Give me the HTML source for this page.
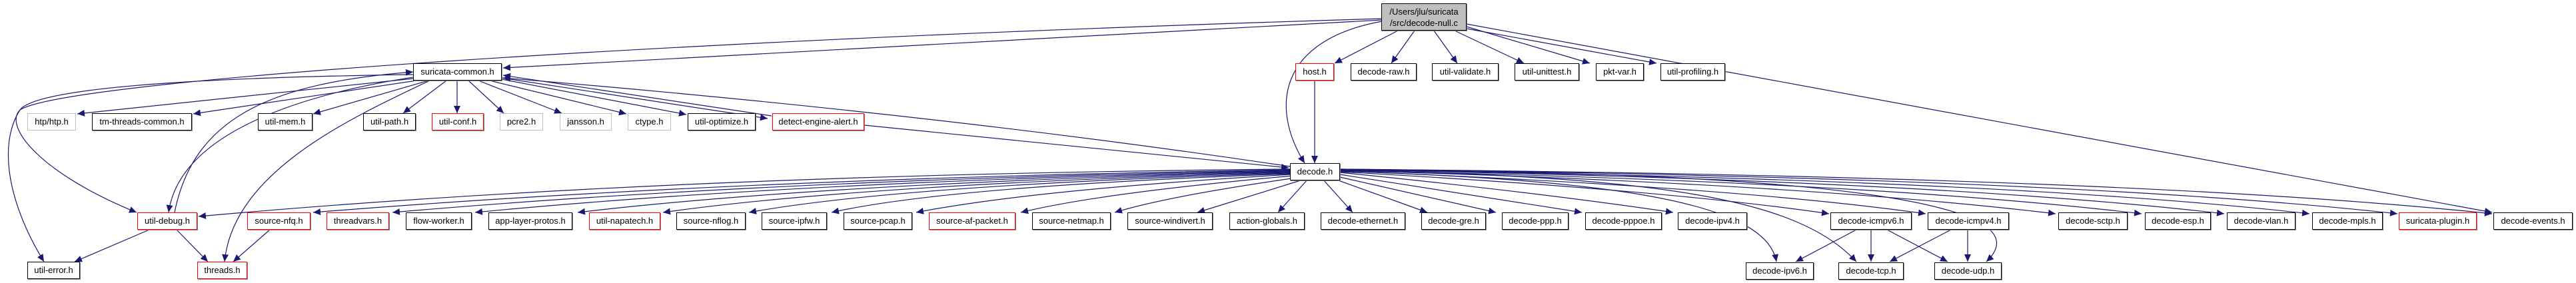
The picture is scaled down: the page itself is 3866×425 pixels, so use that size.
<!DOCTYPE html>
<html><head><meta charset="utf-8"><style>
html,body{margin:0;padding:0;background:#fff;}
body{width:3866px;height:425px;position:relative;overflow:hidden;font-family:"Liberation Sans",Arial,sans-serif;}
.n{position:absolute;box-sizing:border-box;border:1px solid #000;background:#fff;font-size:13px;color:#000;text-align:center;line-height:23px;height:26px;white-space:nowrap;box-shadow:1px 1px 0 #888;}
.r{border-color:#ff0000;}
.g{border-color:#bfbfbf;box-shadow:none;}
svg{position:absolute;left:0;top:0;}
</style></head><body>
<svg width="3866" height="425" viewBox="0 0 3866 425">
<defs><marker id="a" markerUnits="userSpaceOnUse" markerWidth="12" markerHeight="10" refX="11" refY="5" orient="auto"><path d="M0,0 L11,5 L0,10 z" fill="#191970"/></marker></defs>
<g fill="none" stroke="#191970" stroke-width="1.2" marker-end="url(#a)">
<path d="M2098,46 L2003,95"/>
<path d="M2123,46 L2088,95"/>
<path d="M2152,46 L2187,95"/>
<path d="M2183,46 L2287,95"/>
<path d="M2201,40 L2386,95"/>
<path d="M2201,43 L2486,95"/>
<path d="M2201,36 L3740,319"/>
<path d="M2074,32 C1920,60 1905,160 1958,245"/>
<path d="M1973,121 L1973,245"/>
<path d="M2074,30 L755,102"/>
<path d="M2074,28 C1000,60 100,120 30,165 C5,190 60,260 205,319"/>
<path d="M620,112 C400,115 60,125 30,165 C-5,220 15,310 66,393"/>
<path d="M640,113 C450,140 270,200 253,319"/>
<path d="M262,319 C290,180 400,125 620,108"/>
<path d="M645,121 C520,180 350,260 337,393"/>
<path d="M620,118 L116,171"/>
<path d="M625,121 L290,171"/>
<path d="M643,121 L470,171"/>
<path d="M670,121 L605,170"/>
<path d="M686,121 L686,170"/>
<path d="M703,121 L756,170"/>
<path d="M718,121 L843,170"/>
<path d="M735,121 L940,171"/>
<path d="M753,119 L1030,172"/>
<path d="M753,117 L1152,178"/>
<path d="M1158,174 L755,113"/>
<path d="M1936,250 Q1400,170 755,117"/>
<path d="M1297,188 L1934,252"/>
<path d="M1936,254 Q1000,262 298,325"/>
<path d="M1936,255 Q1100,268 470,319"/>
<path d="M1936,256 Q1150,270 589,319"/>
<path d="M1936,257 Q1200,272 713,319"/>
<path d="M1936,258 Q1250,274 867,319"/>
<path d="M1936,259 Q1300,276 995,319"/>
<path d="M1936,260 Q1350,278 1124,319"/>
<path d="M1936,261 Q1420,280 1248,319"/>
<path d="M1937,262 Q1550,285 1375,319"/>
<path d="M1940,264 Q1650,290 1532,319"/>
<path d="M1945,267 Q1750,295 1673,319"/>
<path d="M1955,270 L1797,319"/>
<path d="M1962,270 L1918,319"/>
<path d="M1986,270 L2030,319"/>
<path d="M2006,270 L2142,319"/>
<path d="M2011,266 L2245,319"/>
<path d="M2011,262 L2374,319"/>
<path d="M2011,259 Q2300,288 2511,319"/>
<path d="M2011,257 C2400,270 2650,300 2666,393"/>
<path d="M2011,256 C2500,265 2700,300 2786,393"/>
<path d="M2011,255 C2700,258 3080,300 2981,393"/>
<path d="M2011,258 Q2500,285 2745,321"/>
<path d="M2011,257 Q2600,280 2890,321"/>
<path d="M2011,256 Q2700,275 3085,321"/>
<path d="M2011,256 Q2800,272 3214,321"/>
<path d="M2011,255 Q2900,270 3338,321"/>
<path d="M2011,255 Q3000,268 3466,321"/>
<path d="M2011,254 Q3100,266 3598,321"/>
<path d="M2011,254 Q3200,264 3740,321"/>
<path d="M224,345 L112,393"/>
<path d="M265,345 L312,393"/>
<path d="M405,345 L350,393"/>
<path d="M2786,345 L2695,393"/>
<path d="M2808,345 L2808,393"/>
<path d="M2832,345 L2923,393"/>
<path d="M2928,345 L2836,393"/>
<path d="M2953,345 L2953,393"/>
</g>
</svg>
<div class="n" style="left:2073px;top:5px;width:128px;height:41px;line-height:17px;padding-top:3px;background:#bfbfbf;">/Users/jlu/suricata<br>/src/decode-null.c</div>
<div class="n" style="left:620px;top:95px;width:133px;">suricata-common.h</div>
<div class="n r" style="left:1944px;top:95px;width:58px;">host.h</div>
<div class="n" style="left:2027px;top:95px;width:99px;">decode-raw.h</div>
<div class="n" style="left:2149px;top:95px;width:100px;">util-validate.h</div>
<div class="n" style="left:2273px;top:95px;width:97px;">util-unittest.h</div>
<div class="n" style="left:2395px;top:95px;width:72px;">pkt-var.h</div>
<div class="n" style="left:2492px;top:95px;width:97px;">util-profiling.h</div>

<div class="n g" style="left:41px;top:170px;width:73px;">htp/htp.h</div>
<div class="n" style="left:138px;top:170px;width:150px;">tm-threads-common.h</div>
<div class="n" style="left:387px;top:170px;width:82px;">util-mem.h</div>
<div class="n" style="left:545px;top:170px;width:79px;">util-path.h</div>
<div class="n r" style="left:648px;top:170px;width:78px;">util-conf.h</div>
<div class="n g" style="left:750px;top:170px;width:65px;">pcre2.h</div>
<div class="n g" style="left:840px;top:170px;width:78px;">jansson.h</div>
<div class="n g" style="left:942px;top:170px;width:65px;">ctype.h</div>
<div class="n" style="left:1032px;top:170px;width:102px;">util-optimize.h</div>
<div class="n r" style="left:1159px;top:170px;width:138px;">detect-engine-alert.h</div>

<div class="n" style="left:1936px;top:245px;width:75px;">decode.h</div>

<div class="n r" style="left:206px;top:319px;width:90px;">util-debug.h</div>
<div class="n r" style="left:371px;top:319px;width:95px;">source-nfq.h</div>
<div class="n r" style="left:490px;top:319px;width:94px;">threadvars.h</div>
<div class="n" style="left:609px;top:319px;width:99px;">flow-worker.h</div>
<div class="n" style="left:733px;top:319px;width:126px;">app-layer-protos.h</div>
<div class="n r" style="left:884px;top:319px;width:107px;">util-napatech.h</div>
<div class="n" style="left:1015px;top:319px;width:104px;">source-nflog.h</div>
<div class="n" style="left:1143px;top:319px;width:98px;">source-ipfw.h</div>
<div class="n" style="left:1266px;top:319px;width:103px;">source-pcap.h</div>
<div class="n r" style="left:1394px;top:319px;width:130px;">source-af-packet.h</div>
<div class="n" style="left:1549px;top:319px;width:118px;">source-netmap.h</div>
<div class="n" style="left:1692px;top:319px;width:128px;">source-windivert.h</div>
<div class="n" style="left:1845px;top:319px;width:113px;">action-globals.h</div>
<div class="n" style="left:1982px;top:319px;width:127px;">decode-ethernet.h</div>
<div class="n" style="left:2133px;top:319px;width:97px;">decode-gre.h</div>
<div class="n" style="left:2254px;top:319px;width:100px;">decode-ppp.h</div>
<div class="n" style="left:2379px;top:319px;width:115px;">decode-pppoe.h</div>
<div class="n" style="left:2518px;top:319px;width:104px;">decode-ipv4.h</div>
<div class="n" style="left:2747px;top:319px;width:122px;">decode-icmpv6.h</div>
<div class="n" style="left:2893px;top:319px;width:122px;">decode-icmpv4.h</div>
<div class="n" style="left:3089px;top:319px;width:104px;">decode-sctp.h</div>
<div class="n" style="left:3219px;top:319px;width:99px;">decode-esp.h</div>
<div class="n" style="left:3342px;top:319px;width:103px;">decode-vlan.h</div>
<div class="n" style="left:3470px;top:319px;width:106px;">decode-mpls.h</div>
<div class="n r" style="left:3600px;top:319px;width:117px;">suricata-plugin.h</div>
<div class="n" style="left:3742px;top:319px;width:119px;">decode-events.h</div>

<div class="n" style="left:41px;top:393px;width:79px;">util-error.h</div>
<div class="n r" style="left:296px;top:393px;width:75px;">threads.h</div>
<div class="n" style="left:2620px;top:394px;width:102px;">decode-ipv6.h</div>
<div class="n" style="left:2759px;top:394px;width:98px;">decode-tcp.h</div>
<div class="n" style="left:2903px;top:394px;width:101px;">decode-udp.h</div>
</body></html>
